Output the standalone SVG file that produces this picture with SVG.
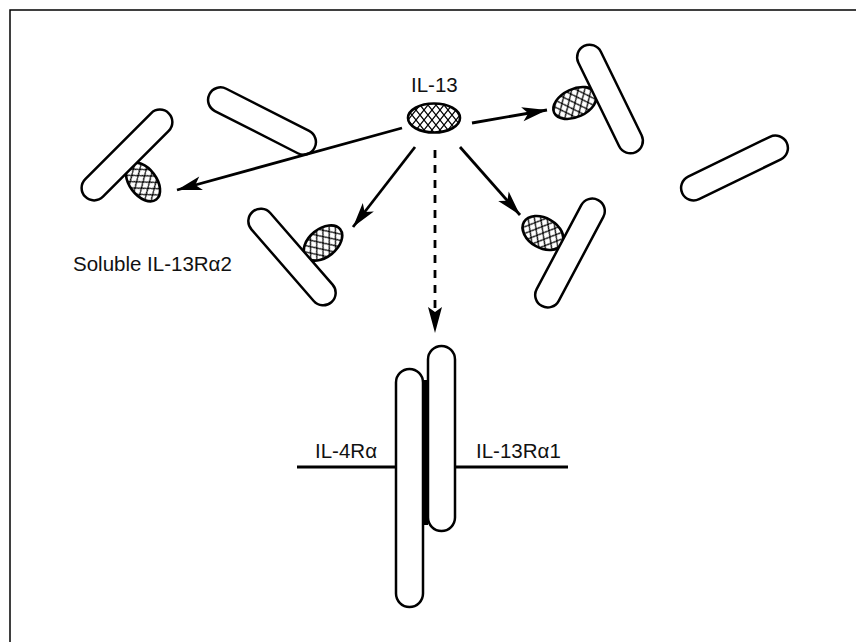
<svg xmlns="http://www.w3.org/2000/svg" width="856" height="642" viewBox="0 0 856 642">
<style>
.cap{fill:#fff;stroke:#000;stroke-width:2.5}
.lig{fill:url(#hatch);stroke:#000;stroke-width:2.6}
.lbl{font-family:"Liberation Sans",Arial,sans-serif;font-size:20.5px;fill:#111}
.con{stroke:#000;stroke-width:2.8;fill:none}
.dash{stroke-dasharray:8 7}
</style>
<defs>
<pattern id="hatch" width="8" height="10" patternUnits="userSpaceOnUse">
<rect width="8" height="10" fill="#fff"/>
<path d="M-1,-1.25 L9,11.25 M9,-1.25 L-1,11.25" stroke="#000" stroke-width="1.2"/>
</pattern>
<marker id="ah" viewBox="-26 -8 27 16" refX="0" refY="0" markerWidth="27" markerHeight="16" markerUnits="userSpaceOnUse" orient="auto">
<path d="M0,0 L-25,-7 L-19,0 L-25,7 z" fill="#000"/>
</marker>
</defs>
<path d="M10,642 V10 H856" fill="none" stroke="#000" stroke-width="1.5"/>

<g id="il13">
<ellipse class="lig" cx="434" cy="118" rx="26" ry="14.5"/>
<text class="lbl" x="411" y="92">IL-13</text>
</g>

<g id="free-receptor-left">
<rect class="cap" transform="translate(262,121) rotate(27)" x="-59" y="-12.5" width="118" height="25" rx="12.5"/>
</g>

<g id="bound-receptor-left">
<ellipse class="lig" transform="translate(143,182) rotate(53)" cx="0" cy="0" rx="22" ry="13.5"/>
<rect class="cap" transform="translate(127,155) rotate(-45)" x="-59" y="-12.5" width="118" height="25" rx="12.5"/>
<text class="lbl" x="73" y="271">Soluble IL-13Rα2</text>
</g>

<g id="bound-receptor-midleft">
<ellipse class="lig" transform="translate(323,243) rotate(-39)" cx="0" cy="0" rx="22" ry="14"/>
<rect class="cap" transform="translate(292,257) rotate(49)" x="-60" y="-12.5" width="120" height="25" rx="12.5"/>
</g>

<g id="bound-receptor-midright">
<ellipse class="lig" transform="translate(543,233) rotate(30)" cx="0" cy="0" rx="22" ry="15"/>
<rect class="cap" transform="translate(570,253) rotate(-62)" x="-60" y="-12.5" width="120" height="25" rx="12.5"/>
</g>

<g id="bound-receptor-topright">
<ellipse class="lig" transform="translate(575,103) rotate(-25)" cx="0" cy="0" rx="23" ry="14"/>
<rect class="cap" transform="translate(610,99) rotate(64)" x="-59" y="-12.5" width="118" height="25" rx="12.5"/>
</g>

<g id="free-receptor-right">
<rect class="cap" transform="translate(734.5,168) rotate(-26)" x="-58" y="-12.5" width="116" height="25" rx="12.5"/>
</g>

<g id="membrane-complex">
<line class="con" x1="297" y1="467" x2="396" y2="467"/>
<line class="con" x1="455" y1="467" x2="568" y2="467"/>
<rect class="cap" x="396" y="369" width="27" height="238" rx="13.5"/>
<rect class="cap" x="428" y="346" width="27" height="185" rx="13.5"/>
<rect x="423" y="380" width="5" height="145" fill="#000"/>
<text class="lbl" x="315" y="458">IL-4Rα</text>
<text class="lbl" x="476" y="458">IL-13Rα1</text>
</g>

<g id="connectors">
<line class="con" x1="402" y1="128" x2="177" y2="190" marker-end="url(#ah)"/>
<line class="con" x1="415" y1="147" x2="353" y2="227" marker-end="url(#ah)"/>
<line class="con dash" x1="435" y1="150" x2="435" y2="310"/>
<path d="M435,333 L428,307 L435,312 L442,307 z" fill="#000"/>
<line class="con" x1="460" y1="147" x2="520" y2="215" marker-end="url(#ah)"/>
<line class="con" x1="472" y1="123" x2="547" y2="110" marker-end="url(#ah)"/>
</g>
</svg>
